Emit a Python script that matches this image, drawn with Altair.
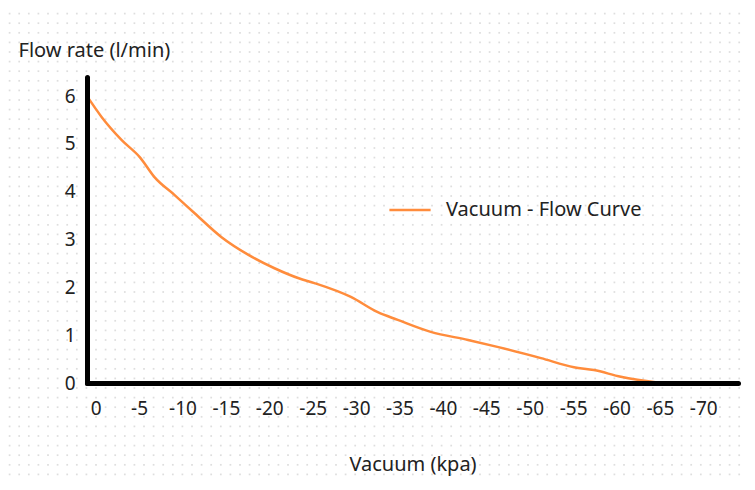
import altair as alt
import numpy as np
import pandas as pd

# Data
vacuum = [1.0, -0.7, -3.0, -5.1, -6.8, -9.1, -11.4, -14.5, -17.6, -20.6, -23.4, -25.2,
          -29.4, -32.5, -34.8, -38.6, -42.9, -46.4, -51.3, -55.1, -57.4, -60.5, -65.1]
flow = [6.0, 5.56, 5.08, 4.72, 4.30, 3.93, 3.55, 3.05, 2.68, 2.40, 2.19, 2.09,
        1.80, 1.48, 1.32, 1.07, 0.90, 0.75, 0.52, 0.33, 0.27, 0.13, 0.0]
series_name = "Vacuum - Flow Curve"
x_ticks = [0, -5, -10, -15, -20, -25, -30, -35, -40, -45, -50, -55, -60, -65, -70]
y_ticks = [0, 1, 2, 3, 4, 5, 6]

FONT = "Noto Sans"
FS = 20
W, H = 651, 306
LEFT, TOP = 79, 69

df = pd.DataFrame({"vacuum": vacuum, "flow": flow, "series": series_name})

# decorative dotted background lattice (page pixels relative to plot origin)
gx = np.arange(0, 756, 9.6) - (LEFT + 8)
gy = np.arange(4, 490, 9.6) - (TOP + 8)
GX, GY = np.meshgrid(gx, gy)
dots = pd.DataFrame({"gx": GX.ravel(), "gy": GY.ravel()})

bg = alt.Chart(dots).mark_square(size=3, color="#dedede", opacity=1, clip=False).encode(
    x=alt.X("gx:Q", scale=alt.Scale(domain=[0, W], range=[0, W]), axis=None),
    y=alt.Y("gy:Q", scale=alt.Scale(domain=[0, H], range=[0, H]), axis=None),
)

line = alt.Chart(df).mark_line(strokeWidth=2.5, strokeCap="round", strokeJoin="round", interpolate="monotone").encode(
    x=alt.X("vacuum:Q", scale=alt.Scale(domain=[1, -74], nice=False, zero=False),
            axis=alt.Axis(values=x_ticks, title="Vacuum (kpa)", ticks=False, grid=False, zindex=1,
                          labelExpr="'' + datum.value",
                          labelPadding=16, labelFontSize=FS - 1, labelFont=FONT, labelColor="#222",
                          domainColor="#000", domainWidth=5, domainCap="round",
                          titleFont=FONT, titleFontSize=FS, titleFontWeight="normal", titleColor="#222",
                          titleX=W / 2, titleY=81, titleBaseline="middle", titleAlign="center")),
    y=alt.Y("flow:Q", scale=alt.Scale(domain=[0, 6.4], nice=False),
            axis=alt.Axis(values=y_ticks, title="Flow rate (l/min)", ticks=False, grid=False, zindex=1,
                          labelPadding=12, labelFontSize=FS - 1, labelFont=FONT, labelColor="#222",
                          domainColor="#000", domainWidth=5, domainCap="round",
                          titleFont=FONT, titleFontSize=FS, titleFontWeight="normal", titleColor="#222",
                          titleAngle=0, titleX=-69, titleY=-27, titleAlign="left", titleBaseline="middle")),
    color=alt.Color("series:N", scale=alt.Scale(range=["#ff8c3c"]),
                    legend=alt.Legend(title=None, orient="none", legendX=301, legendY=111,
                                      symbolType="stroke", symbolSize=1700, symbolStrokeWidth=2.5,
                                      labelLimit=400,
                                      labelFont=FONT, labelFontSize=FS, labelColor="#222", labelOffset=14)),
)

chart = alt.layer(bg, line).resolve_scale(x="independent", y="independent").properties(
    width=W, height=H,
    autosize=alt.AutoSizeParams(type="none"),
    padding={"left": LEFT, "top": TOP, "right": 9, "bottom": 97},
    background="white",
).configure_view(stroke=None)

chart.save("out.html", embed_options={"renderer": "svg", "actions": False})
